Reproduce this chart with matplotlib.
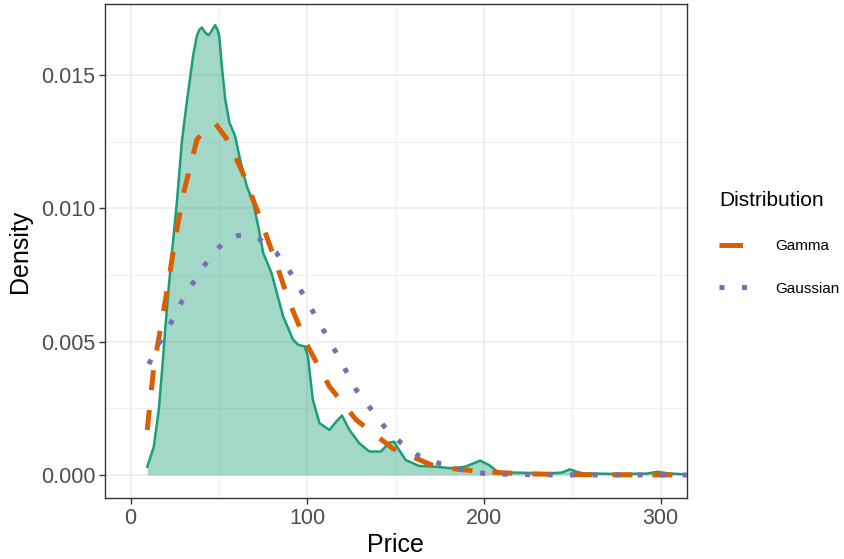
import matplotlib

matplotlib.use("Agg")
import matplotlib.pyplot as plt
from matplotlib.lines import Line2D

GREEN = "#1B9E77"
ORANGE = "#D95F02"
PURPLE = "#7570B3"

# kernel density of price
dens_x = [9.4, 13.1, 15.9, 17.8, 19.7, 21.6, 23.0, 26.3, 29.1, 31.5, 33.8, 35.5,
          37.5, 38.8, 40.3, 42.2, 44.1, 46.0, 47.8, 49.2, 50.1, 51.6, 53.5, 55.9,
          59.1, 61.9, 65.7, 69.4, 72.2, 75.0, 79.7, 86.3, 91.9, 94.7, 98.5, 100.3,
          103.1, 106.9, 112.5, 116.3, 119.6, 123.8, 129.4, 135.1, 141.6, 146.3,
          149.1, 151.9, 155.7, 163.2, 172.6, 181.9, 189.4, 194.5, 197.8, 202.6,
          208.2, 217.6, 236.3, 244.0, 248.5, 252.5, 256.0, 273.0, 292.0, 298.3,
          304.0, 315.0]
dens_y = [0.00031, 0.00106, 0.00244, 0.00395, 0.00558, 0.00708, 0.00808, 0.01034,
          0.01259, 0.01385, 0.01497, 0.01580, 0.01648, 0.01670, 0.01679, 0.01660,
          0.01650, 0.01668, 0.01688, 0.01670, 0.01648, 0.01535, 0.01410, 0.01322,
          0.01272, 0.01184, 0.01084, 0.01021, 0.00933, 0.00833, 0.00758, 0.00595,
          0.00508, 0.00489, 0.00482, 0.00445, 0.00282, 0.00194, 0.00169, 0.00200,
          0.00223, 0.00169, 0.00119, 0.00088, 0.00088, 0.00121, 0.00125, 0.00094,
          0.00056, 0.00034, 0.00031, 0.00025, 0.00031, 0.00045, 0.00054, 0.00038,
          0.00010, 0.00009, 0.00006, 0.00009, 0.00021, 0.00012, 0.00006, 0.00004,
          0.00005, 0.00012, 0.00006, 0.00002]

# fitted gamma density
gamma_x = [9.4, 13.1, 17.8, 21.6, 25.3, 30.0, 37.5, 43.0, 48.0, 55.3, 63.8, 73.2,
           81.6, 90.0, 100.3, 112.5, 127.6, 148.2, 172.6, 198.8, 224.0, 260.0, 315.0]
gamma_y = [0.00169, 0.00407, 0.00583, 0.00733, 0.00890, 0.01059, 0.01259, 0.01300,
           0.01318, 0.01253, 0.01128, 0.00965, 0.00808, 0.00645, 0.00482, 0.00332,
           0.00207, 0.00100, 0.00031, 0.00012, 0.00004, 0.00001, 0.0]

# fitted gaussian density
gauss_x = [10.3, 15.9, 22.5, 28.1, 34.7, 41.8, 49.7, 55.0, 60.4, 66.0, 72.6, 82.5,
           90.0, 96.6, 103.1, 115.4, 127.6, 143.5, 152.9, 163.2, 174.4, 187.6, 199.8,
           216.0, 240.0, 315.0]
gauss_y = [0.00416, 0.00491, 0.00567, 0.00642, 0.00714, 0.00787, 0.00852, 0.00885,
           0.00898, 0.00900, 0.00886, 0.00833, 0.00764, 0.00689, 0.00614, 0.00470,
           0.00320, 0.00182, 0.00121, 0.00071, 0.00044, 0.00019, 0.00006, 0.00002,
           0.0, 0.0]

x_ticks = [0, 100, 200, 300]
y_ticks = [0.0, 0.005, 0.010, 0.015]
y_labels = ["0.000", "0.005", "0.010", "0.015"]

plt.rcParams["font.family"] = ["Liberation Sans", "DejaVu Sans"]

fig = plt.figure(figsize=(8.45, 5.59), dpi=100)
ax = fig.add_axes([0.1243, 0.1086, 0.8127 - 0.1243, 0.9937 - 0.1086])

ax.set_xlim(-14.5, 314.7)
ax.set_ylim(-0.000875, 0.01769)

# ggplot theme_bw look
ax.set_xticks([50, 150, 250], minor=True)
ax.set_yticks([0.0025, 0.0075, 0.0125], minor=True)
ax.grid(True, which="major", color="#EBEBEB", lw=1.1, zorder=0)
ax.grid(True, which="minor", color="#EBEBEB", lw=0.55, zorder=0)
ax.tick_params(which="minor", length=0)
ax.set_axisbelow(True)
for s in ax.spines.values():
    s.set_color("#333333")
    s.set_linewidth(1.0)

ax.fill_between(dens_x, dens_y, 0, color=GREEN, alpha=0.4, lw=0, zorder=1)
ax.plot(dens_x, dens_y, color=GREEN, lw=1.8, solid_joinstyle="round", zorder=2)
ax.plot(gamma_x, gamma_y, color=ORANGE, lw=3.6, linestyle=(0, (4, 4)),
        dash_capstyle="butt", zorder=3)
ax.plot(gauss_x, gauss_y, color=PURPLE, lw=3.6, linestyle=(0, (1, 3.5)),
        dash_capstyle="butt", zorder=4)

ax.set_xticks(x_ticks)
ax.set_xticklabels([str(v) for v in x_ticks])
ax.set_yticks(y_ticks)
ax.set_yticklabels(y_labels)
ax.tick_params(which="major", length=4, width=1.0, color="#333333",
               labelcolor="#4D4D4D", labelsize=15.5, pad=3)

ax.set_xlabel("Price", fontsize=18, labelpad=3)
ax.set_ylabel("Density", fontsize=18, labelpad=6)

handles = [
    Line2D([], [], color=ORANGE, lw=3.6, linestyle=(0, (4.7, 2)), dash_capstyle="butt"),
    Line2D([], [], color=PURPLE, lw=3.6, linestyle=(0, (1, 3.5)), dash_capstyle="butt"),
]
fig.legend(handles, ["Gamma", "Gaussian"], title="Distribution",
           loc="upper left", bbox_to_anchor=(0.851, 0.658), frameon=False,
           fontsize=11, title_fontsize=15, alignment="left",
           borderpad=0, borderaxespad=0, handlelength=1.9, handletextpad=1.75,
           labelspacing=1.88)

fig.savefig("out.png", dpi=100)
